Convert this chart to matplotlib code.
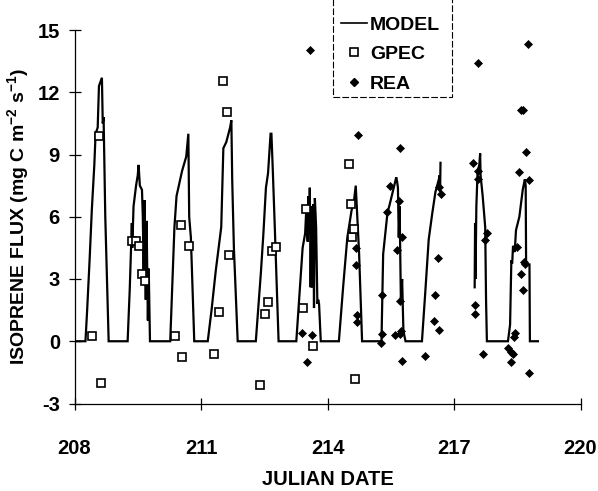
import numpy as np
import matplotlib
matplotlib.use("Agg")
import matplotlib.pyplot as plt
from matplotlib.patches import Rectangle
from matplotlib.lines import Line2D

plt.rcParams['font.family'] = ['Liberation Sans', 'DejaVu Sans']
plt.rcParams['font.weight'] = 'bold'
plt.rcParams['mathtext.fontset'] = 'custom'
plt.rcParams['mathtext.rm'] = 'Liberation Sans:bold'
plt.rcParams['mathtext.it'] = 'Liberation Sans:bold'
plt.rcParams['mathtext.bf'] = 'Liberation Sans:bold'
plt.rcParams['mathtext.default'] = 'rm'

nan = float('nan')

# ---------------- data ----------------
model_day = [
    208.00, 208.26, 208.30, 208.36, 208.41, 208.47, 208.50, 208.55, 208.58, 208.65, 208.67, 208.69, 208.73, 208.81,
    209.26, 209.31, 209.36, 209.37, 209.40, 209.46, 209.50, 209.52, 209.55, 209.60, 209.62, 209.64, 209.66, 209.69,
    209.71, 209.74, 209.76, 209.79,
    210.27, 210.37, 210.42, 210.55, 210.65, 210.70, 210.72, 210.76, 210.84,
    211.16, 211.25, 211.35, 211.48, 211.53, 211.60, 211.65, 211.69, 211.72, 211.74, 211.78, 211.87,
    212.30, 212.42, 212.48, 212.54, 212.59, 212.65, 212.67, 212.70, 212.75, 212.84,
    213.26, 213.33, 213.41, 213.47, 213.50, 213.53, 213.55, 213.57, 213.58, 213.60, 213.62, 213.64, 213.66, 213.68,
    213.70, 213.73, 213.76, 213.78, 213.80, 213.84,
    214.27, 214.37, 214.47, 214.57, 214.63, 214.67, 214.70, 214.75, 214.82,
    215.28, 215.30, 215.32, 215.42, 215.50, 215.57, 215.63, 215.65, 215.67, 215.69, 215.71, 215.74, 215.77, 215.80,
    215.85,
    216.24, 216.32, 216.40, 216.48, 216.56, 216.64, 216.66, 216.67, 216.68, 216.69,
    217.49, 217.50, 217.51, 217.53, 217.56, 217.60, 217.62, 217.63, 217.68, 217.74, 217.76, 217.78,
    218.28, 218.33, 218.36, 218.38, 218.40, 218.44, 218.47, 218.55, 218.63, 218.68, 218.70, 218.71, 218.79, 218.80,
    218.99,
]
model_flux = [
    0, 0, 1.5, 4.0, 6.3, 8.5, 10.0, 10.3, 12.3, 12.7, 10.5, 10.8, 6.0, 0,
    0, 2.5, 5.7, 4.5, 6.5, 7.5, 8.0, 8.5, 7.5, 7.3, 6.0, 3.3, 6.8, 2.0,
    5.8, 1.0, 3.5, 0,
    0, 5.5, 7.0, 8.2, 8.9, 10.0, 6.0, 5.0, 0,
    0, 1.5, 3.4, 5.5, 9.3, 9.6, 10.0, 10.3, 10.65, 7.8, 4.5, 0,
    0, 3.3, 5.2, 7.4, 8.1, 10.0, 10.0, 8.4, 5.5, 0,
    0, 2.1, 4.5, 5.2, 6.5, 4.8, 7.0, 5.2, 7.4, 2.6, 6.5, 2.6, 6.6, 1.6,
    6.9, 5.5, 1.8, 2.0, 1.8, 0,
    0, 2.6, 5.0, 6.3, 6.8, 7.5, 6.3, 4.2, 0,
    0, 2.1, 4.2, 6.15, 6.8, 7.4, 7.9, 7.7, 7.4, 5.0, 6.5, 2.0, 3.0, 0.5,
    0,
    0, 2.4, 4.9, 6.1, 7.2, 7.8, 8.0, 7.2, 8.6, nan,
    2.6, 5.7, 3.0, 6.5, 8.2, 8.5, 9.05, 8.0, 7.0, 5.5, 2.0, 0,
    0, 0.8, 3.9, 3.75, 4.6, 4.3, 5.35, 6.0, 7.3, 7.8, 7.5, 3.7, 3.7, 0,
    0,
]

gpec_day = [208.42, 208.58, 208.64, 209.37, 209.47, 209.54, 209.60, 209.68, 210.39, 210.52, 210.56, 210.72,
            211.32, 211.43, 211.53, 211.61, 211.67, 212.41, 212.52, 212.60, 212.68, 212.77, 213.41, 213.49,
            213.65, 214.51, 214.55, 214.57, 214.63, 214.65]
gpec_flux = [0.23, 9.9, -2.0, 4.83, 4.83, 4.57, 3.26, 2.9, 0.26, 5.59, -0.77, 4.6,
             -0.6, 1.39, 12.55, 11.04, 4.17, -2.1, 1.33, 1.89, 4.35, 4.54, 1.62, 6.38,
             -0.25, 8.52, 6.6, 5.04, 5.41, -1.83]

rea_day = [213.39, 213.52, 213.58, 213.64,
           214.67, 214.67, 214.71, 214.71, 214.73,
           215.28, 215.30, 215.30, 215.42, 215.48, 215.61, 215.65, 215.69, 215.71, 215.71, 215.73, 215.75,
           215.77, 215.77,
           216.32, 216.52, 216.54, 216.61, 216.65, 216.65, 216.68,
           217.46, 217.49, 217.50, 217.56, 217.57, 217.57, 217.69, 217.73, 217.78,
           218.29, 218.34, 218.35, 218.40, 218.43, 218.44, 218.49, 218.53, 218.60, 218.60, 218.63, 218.63,
           218.65, 218.68, 218.71, 218.76, 218.79, 218.79]
rea_flux = [0.41, -1.0, 14.05, 0.31,
            4.48, 3.69, 1.28, 0.92, 9.93,
            -0.09, 0.36, 2.21, 6.23, 7.47, 0.28, 4.41, 6.75, 9.29, 1.92, 0.36, 0.5,
            5.03, -0.96,
            -0.69, 1.0, 2.21, 4.01, 0.55, 7.44, 7.12,
            8.61, 1.76, 1.29, 8.2, 13.39, 7.81, -0.6, 4.9, 5.22,
            -0.31, -1.0, -0.52, -0.6, 0.2, 0.39, 4.54, 8.16, 3.26, 11.14, 11.14, 2.49,
            3.82, 3.7, 9.13, 14.32, 7.76, -1.54]

x_ticks = [208, 211, 214, 217, 220]
y_ticks = [-3, 0, 3, 6, 9, 12, 15]

# ---------------- figure ----------------
W, H = 598, 491
fig = plt.figure(figsize=(W / 100, H / 100), dpi=100)
ax = fig.add_axes([74.5 / W, (H - 403.5) / H, 506 / W, 373.5 / H])

ax.plot(model_day, model_flux, color='black', lw=1.6, solid_joinstyle='miter', zorder=2)
ax.plot(gpec_day, gpec_flux, linestyle='none', marker='s', ms=5.3, mfc='white', mec='black', mew=1.2, zorder=3)
ax.plot(rea_day, rea_flux, linestyle='none', marker='D', ms=4.3, mfc='black', mec='black', mew=0.5, zorder=3)

ax.set_xlim(208, 220)
ax.set_ylim(-3, 15)
ax.set_xticks(x_ticks)
ax.set_yticks(y_ticks)
ax.set_xticklabels([str(t) for t in x_ticks])
ax.set_yticklabels([str(t) for t in y_ticks])

for s in ['top', 'right']:
    ax.spines[s].set_visible(False)
for s in ['left', 'bottom']:
    ax.spines[s].set_linewidth(0.9)

ax.tick_params(axis='both', direction='inout', length=8, width=0.9, labelsize=14.5)
ax.tick_params(axis='x', pad=21.5)
ax.tick_params(axis='y', pad=6.5)

ax.set_xlabel('JULIAN DATE', fontsize=14.5, fontweight='bold', labelpad=8.5)
ax.set_ylabel('ISOPRENE FLUX (mg C m$^{-2}$ s$^{-1}$)', fontsize=14, fontweight='bold', labelpad=5)

# legend
handles = [Line2D([], [], color='black', lw=1.2),
           Line2D([], [], linestyle='none', marker='s', ms=5.3, mfc='white', mec='black', mew=1.2),
           Line2D([], [], linestyle='none', marker='D', ms=4.3, mfc='black', mec='black')]
leg = fig.legend(handles, ['MODEL', 'GPEC', 'REA'], loc='upper left',
                 bbox_to_anchor=(341 / W, 1 - 16 / H), frameon=False,
                 prop={'size': 14, 'weight': 'bold'}, handlelength=1.35, handletextpad=0.15,
                 labelspacing=0.62, borderpad=0.0, borderaxespad=0.0)
fig.add_artist(Rectangle((333 / W, (H - 97) / H), (452 - 333) / W, 100 / H,
                         transform=fig.transFigure, fill=False, ec='black', lw=0.8,
                         linestyle=(0, (6, 2)), clip_on=False))

fig.savefig('out.png', dpi=100)
